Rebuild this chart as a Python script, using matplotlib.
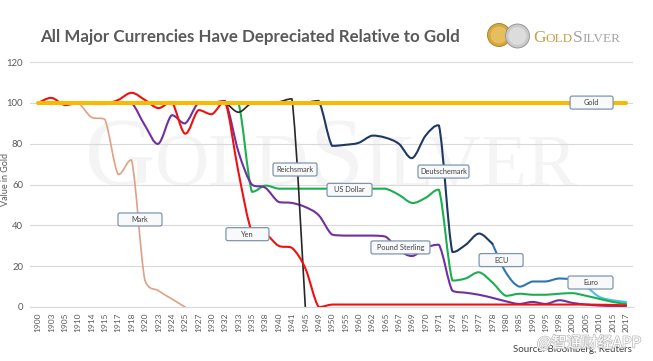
import numpy as np
import matplotlib
matplotlib.use("Agg")
import matplotlib.pyplot as plt
from matplotlib.path import Path
from matplotlib.patches import PathPatch, FancyBboxPatch, Circle
import matplotlib.transforms as mtransforms
import matplotlib.patheffects as pe

plt.rcParams['font.family'] = ['Lato', 'DejaVu Sans']

nan = np.nan
years = ["1900", "1903", "1905", "1910", "1914", "1915", "1917", "1918", "1920", "1923",
         "1924", "1925", "1927", "1930", "1932", "1933", "1935", "1938", "1940", "1941",
         "1945", "1949", "1950", "1955", "1960", "1962", "1965", "1967", "1969", "1970",
         "1971", "1974", "1975", "1977", "1978", "1980", "1985", "1990", "1995", "1998",
         "2000", "2005", "2010", "2015", "2017"]

gold = [100] * 45

mark = [100, 100, 100, 100, 93, 92, 65, 72, 13, 8, 4, 0] + [nan] * 33

yen = [100, 102.5, 99, 100, 99.5, 99.5, 101.5, 105, 101.5, 97.5,
       100.5, 85, 96.5, 94.5, 100.5, 66, 37, 36, 30, 29,
       19, 0, 1.2, 1.2, 1.2, 1.2, 1.2, 1.2, 1.2, 1.2,
       1.2, 1.2, 1.2, 1.2, 1.2, 1.2, 1.2, 1.2, 1.2, 1.2,
       1.2, 1.2, 1.1, 1.0, 0.8]

reichsmark = [nan] * 11 + [100, 100, 100, 100, 95.5, 100, 100, 100.5, 102, 0] + [nan] * 24

pound = [100, 100, 100, 100, 100, 100, 100, 100, 89, 80,
         94, 90, 100, 100, 101, 76, 60, 58.5, 51.5, 51,
         49, 45, 35.5, 35, 35, 35, 34.5, 28, 25, 29,
         30.5, 8, 7, 6, 4.5, 2.8, 1.5, 2.5, 1.5, 3.3,
         2, 1.2, 0.7, 0.5, 0.5]

dollar = [100] * 15 + [100, 56.5, 59.5, 58, 58,
                       58, 58, 58, 58, 58, 58, 58, 55, 51, 53.5,
                       57.5, 13, 14, 17, 12, 5.5, 6.5, 6, 6, 6.5,
                       6.8, 5.5, 4, 2.5, 1.5]

deutschemark = [nan] * 20 + [100, 101, 79, 79.5, 80.5, 84, 83, 80, 73, 84,
                             89, 27, 30.5, 36, 31] + [nan] * 10

ecu = [nan] * 34 + [31, 17, 10, 12.5, 12.5, 14, 13.5] + [nan] * 4

euro = [nan] * 40 + [13.5, 10, 5, 3.3, 2.5]

series_names = ["Euro", "ECU", "Deutschemark", "US Dollar", "Pound Sterling",
                "Reichsmark", "Mark", "Yen", "Gold"]
series_values = [euro, ecu, deutschemark, dollar, pound, reichsmark, mark, yen, gold]
series_colors = ["#4DBDEB", "#2E75B6", "#1F3864", "#1BAF50", "#7030A0",
                 "#262626", "#E0A083", "#F01010", "#F7BA00"]
series_widths = [1.5, 1.5, 1.5, 1.5, 1.5, 1.2, 1.2, 1.5, 2.9]

# label boxes: (text, x index, value, width in px)
label_text = ["Mark", "Yen", "Reichsmark", "US Dollar", "Deutschemark",
              "Pound Sterling", "ECU", "Euro", "Gold"]
label_x = [7.63, 15.67, 19.23, 23.31, 30.34, 27.12, 34.65, 41.34, 41.42]
label_y = [42.9, 35.7, 67.4, 57.4, 66.4, 29.2, 23.0, 12.0, 100.2]
label_w = [44, 43, 44, 45, 51, 59, 44, 45, 43]

W, H = 653, 361
fig = plt.figure(figsize=(W / 100, H / 100), dpi=100)
fig.patch.set_facecolor("white")

ax_l, ax_r, ax_b, ax_t = 30, 633, 307, 62.2
ax = fig.add_axes([ax_l / W, 1 - ax_b / H, (ax_r - ax_l) / W, (ax_b - ax_t) / H])
ax.set_xlim(-0.6, 44.52)
ax.set_ylim(0, 120)
ax.set_axisbelow(True)
ax.yaxis.grid(True, color="#D9D9D9", lw=0.8, zorder=0.5)
for s in ["left", "right", "top"]:
    ax.spines[s].set_visible(False)
ax.spines["bottom"].set_color("#D9D9D9")
ax.spines["bottom"].set_linewidth(0.8)
ax.set_yticks(range(0, 121, 20))
ax.set_xticks(range(len(years)))
ax.set_xticklabels(years, rotation=90, fontsize=6, color="#595959")
ax.tick_params(axis="y", length=0, pad=5, labelsize=6.8, labelcolor="#595959")
ax.tick_params(axis="x", length=0, pad=4)


def smooth_runs(vals):
    vals = np.asarray(vals, float)
    idx = np.arange(len(vals))
    runs, cur = [], []
    for i, v in zip(idx, vals):
        if np.isnan(v):
            if cur:
                runs.append(cur)
            cur = []
        else:
            cur.append((float(i), float(v)))
    if cur:
        runs.append(cur)
    return runs


def bezier_path(pts):
    n = len(pts)
    xs = [p[0] for p in pts]
    ys = [p[1] for p in pts]
    verts = [(xs[0], ys[0])]
    codes = [Path.MOVETO]
    for i in range(n - 1):
        p0 = i - 1 if i > 0 else i
        p3 = i + 2 if i + 2 < n else i + 1
        lo, hi = min(ys[i], ys[i + 1]), max(ys[i], ys[i + 1])
        m = 0.08 * (hi - lo)
        c1y = min(max(ys[i] + (ys[i + 1] - ys[p0]) / 6, lo - m), hi + m)
        c2y = min(max(ys[i + 1] - (ys[p3] - ys[i]) / 6, lo - m), hi + m)
        c1 = (xs[i] + (xs[i + 1] - xs[p0]) / 6, c1y)
        c2 = (xs[i + 1] - (xs[p3] - xs[i]) / 6, c2y)
        verts += [c1, c2, (xs[i + 1], ys[i + 1])]
        codes += [Path.CURVE4] * 3
    return Path(verts, codes)


for k, (name, vals, col, lw) in enumerate(zip(series_names, series_values,
                                              series_colors, series_widths)):
    for run in smooth_runs(vals):
        if len(run) < 2:
            continue
        patch = PathPatch(bezier_path(run), facecolor="none", edgecolor=col,
                          lw=lw, zorder=2 + k * 0.1, capstyle="round",
                          joinstyle="round")
        ax.add_patch(patch)

# background watermark in the plot area
wm_col = "#F4F4F4"
wm_base = 0.498
t1 = ax.text(0.091, wm_base, "G", transform=ax.transAxes, fontsize=70,
             family="Liberation Serif", color=wm_col, va="baseline", ha="left", zorder=0.3)
t2 = ax.annotate("OLD", xy=(1, wm_base), xycoords=(t1, "axes fraction"), fontsize=54,
                 family="Liberation Serif", color=wm_col, va="baseline", ha="left", zorder=0.3)
t3 = ax.annotate("S", xy=(1, wm_base), xycoords=(t2, "axes fraction"), fontsize=70,
                 family="Liberation Serif", color=wm_col, va="baseline", ha="left", zorder=0.3)
t4 = ax.annotate("ILVER", xy=(1, wm_base), xycoords=(t3, "axes fraction"), fontsize=54,
                 family="Liberation Serif", color=wm_col, va="baseline", ha="left", zorder=0.3)

# data label boxes
for txt, lx, ly, lw_px in zip(label_text, label_x, label_y, label_w):
    trans = fig.dpi_scale_trans + mtransforms.ScaledTranslation(lx, ly, ax.transData)
    w_in, h_in = lw_px / 100, 0.13
    box = FancyBboxPatch((-w_in / 2, -h_in / 2), w_in, h_in,
                         boxstyle="round,pad=0,rounding_size=0.02",
                         facecolor="#F8F9FB", edgecolor="#7F95AE", lw=0.9,
                         transform=trans, zorder=5, clip_on=False)
    ax.add_patch(box)
    ax.text(lx, ly, txt, ha="center", va="center", fontsize=5.3, color="#404040",
            zorder=6)

# title
title = fig.text(40 / W, 1 - 41.7 / H, "All Major Currencies Have Depreciated Relative to Gold",
                 fontsize=12, fontweight="bold", color="#595959", ha="left", va="baseline")
fig.canvas.draw()
bb = title.get_window_extent(fig.canvas.get_renderer())
title.set_fontsize(12 * 418 / bb.width)

# y label
fig.text(6 / W, 1 - 180 / H, "Value in Gold", rotation=90, fontsize=6.5,
         color="#595959", ha="center", va="center")

# source
fig.text(513 / W, 1 - 349 / H, "Source: Bloomberg, Reuters", fontsize=7,
         color="#404040", ha="left", va="center")

# site watermark
fig.text(537 / W, 1 - 343 / H, "@智通财经APP", fontsize=11,
         family=["Noto Sans CJK SC", "DejaVu Sans"], color="white",
         ha="left", va="center",
         path_effects=[pe.Stroke(linewidth=1.1, foreground="#BDBDBD"), pe.Normal()])

# logo coins
axl = fig.add_axes([480 / W, 1 - 52 / H, 60 / W, 30 / H])
axl.set_xlim(480, 540)
axl.set_ylim(52, 22)
axl.axis("off")
axl.add_patch(Circle((499, 35), 11.5, facecolor="#D7A73E", edgecolor="#A97E24", lw=0.6))
axl.add_patch(Circle((499, 35), 8.5, facecolor="#E5BF5E", edgecolor="none"))
axl.add_patch(Circle((517.5, 36), 12, facecolor="#C9C9C9", edgecolor="#8F8F8F", lw=0.6))
axl.add_patch(Circle((517.5, 36), 9, facecolor="#DCDCDC", edgecolor="none"))

lb = 1 - 42 / H
g1 = fig.text(533 / W, lb, "G", fontsize=12.5, family="Liberation Serif",
              color="#C9A04A", va="baseline", ha="left")
g2 = ax.annotate("OLD", xy=(1, lb), xycoords=(g1, "figure fraction"), fontsize=9.5,
                 family="Liberation Serif", color="#C9A04A", va="baseline", ha="left",
                 annotation_clip=False)
g3 = ax.annotate("S", xy=(1, lb), xycoords=(g2, "figure fraction"), fontsize=12.5,
                 family="Liberation Serif", color="#A3A3A3", va="baseline", ha="left",
                 annotation_clip=False)
g4 = ax.annotate("ILVER", xy=(1, lb), xycoords=(g3, "figure fraction"), fontsize=9.5,
                 family="Liberation Serif", color="#A3A3A3", va="baseline", ha="left",
                 annotation_clip=False)

fig.savefig("out.png", dpi=100, facecolor="white")
